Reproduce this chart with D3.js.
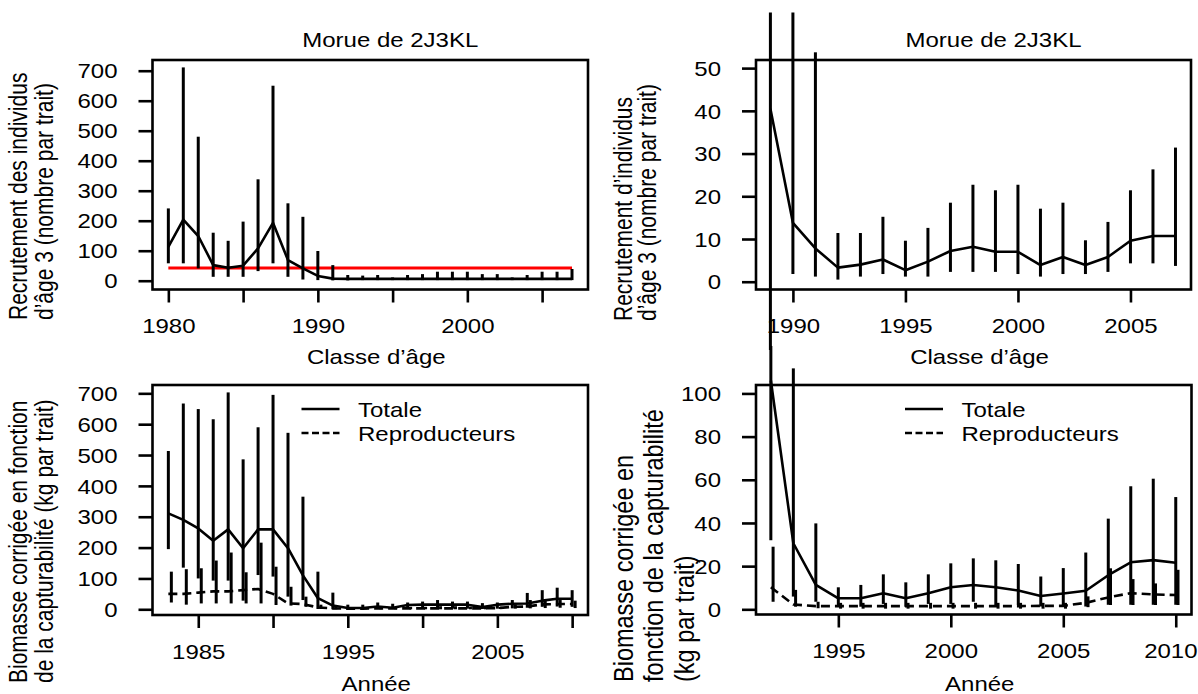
<!DOCTYPE html>
<html>
<head>
<meta charset="utf-8">
<script src="https://cdn.jsdelivr.net/npm/d3@7"></script>
<style>
  body { margin: 0; background: #fff; }
  svg { display: block; font-family: "Liberation Sans", Arial, sans-serif; }
</style>
</head>
<body>
<svg id="chart" width="1198" height="694"></svg>
<script>
// Recruitment at age 3, 1980-2007 (top left)
var yearsRec1 = [1980, 1981, 1982, 1983, 1984, 1985, 1986, 1987, 1988, 1989, 1990, 1991, 1992, 1993,
                 1994, 1995, 1996, 1997, 1998, 1999, 2000, 2001, 2002, 2003, 2004, 2005, 2006, 2007];
var recMean1 = [113, 204, 149, 52, 43, 50, 108, 193, 69, 41, 16, 7, 6, 6, 6, 6, 6, 6, 6, 6, 6, 6, 6, 6, 6, 6, 6, 6];
var recLow1  = [58, 58, 41, 13, 13, 13, 32, 58, 13, 4, 2, 1, 1, 2, 2, 2, 2, 2, 2, 2, 2, 2, 2, 2, 2, 2, 2, 2];
var recHigh1 = [241, 711, 480, 160, 133, 197, 338, 650, 258, 213, 99, 52, 19, 17, 19, 11, 19, 22, 30, 30, 30, 22, 22, 11, 19, 30, 30, 39];
var recRefLevel1 = 42;

// Recruitment at age 3, 1989-2007 (top right)
var yearsRec2 = [1989, 1990, 1991, 1992, 1993, 1994, 1995, 1996, 1997, 1998, 1999, 2000, 2001, 2002, 2003, 2004, 2005, 2006, 2007];
var recMean2 = [40.5, 13.8, 7.8, 3.3, 4.0, 5.2, 2.7, 4.7, 7.2, 8.2, 7.0, 7.0, 3.9, 5.8, 3.9, 5.8, 9.6, 10.7, 10.7];
var recLow2  = [-16, 1.8, 1.2, 0.5, 1.2, 1.8, 1.2, 1.2, 2.3, 2.3, 2.3, 1.8, 1.2, 1.8, 1.8, 2.3, 4.3, 4.3, 3.7];
var recHigh2 = [63, 63, 53.7, 11.4, 11.4, 15.2, 9.6, 12.6, 18.5, 22.7, 21.4, 22.7, 17.1, 18.5, 9.7, 14.0, 21.4, 26.3, 31.4];

// Biomass, 1983-2010 (bottom left)
var yearsBio3 = [1983, 1984, 1985, 1986, 1987, 1988, 1989, 1990, 1991, 1992, 1993, 1994, 1995, 1996,
                 1997, 1998, 1999, 2000, 2001, 2002, 2003, 2004, 2005, 2006, 2007, 2008, 2009, 2010];
var totMean3 = [311, 290, 262, 222, 259, 198, 259, 259, 198, 110, 36, 12, 4, 4, 9, 5, 14, 15, 15, 15, 15, 7, 15, 18, 19, 28, 34, 34];
var totLow3  = [195, 135, 100, 93, 93, 28, 111, 106, 41, 30, 1, 0, 1, 1, 2, 1, 2, 2, 2, 2, 2, 1, 2, 3, 5, 8, 9, 8];
var totHigh3 = [513, 667, 649, 616, 703, 486, 590, 695, 572, 365, 122, 54, 15, 15, 22, 18, 22, 25, 30, 25, 25, 20, 22, 30, 53, 62, 70, 62];
var repMean3 = [50, 50, 54, 58, 58, 62, 66, 50, 19, 17, 6, 3, 2, 2, 3, 3, 3, 3, 3, 3, 3, 3, 4, 8, 9, 16, 17, 17];
var repLow3  = [22, 15, 19, 19, 19, 19, 19, 14, 12, 8, 1, 0, 0, 0, 0, 0, 0, 0, 0, 0, 0, 0, 1, 2, 3, 4, 5, 4];
var repHigh3 = [122, 130, 133, 158, 184, 120, 216, 138, 73, 41, 15, 8, 6, 6, 8, 6, 8, 8, 10, 10, 8, 6, 8, 15, 30, 28, 30, 28];

// Biomass, 1992-2010 (bottom right)
var yearsBio4 = [1992, 1993, 1994, 1995, 1996, 1997, 1998, 1999, 2000, 2001, 2002, 2003, 2004, 2005, 2006, 2007, 2008, 2009, 2010];
var totMean4 = [106, 30.6, 11.3, 5.1, 5.1, 7.4, 5.1, 7.4, 10.2, 11.3, 10.2, 8.7, 6.2, 7.3, 8.6, 15.8, 21.8, 22.8, 21.6];
var totLow4  = [32, 5.9, 3.5, 1.2, 1.2, 2.5, 1.2, 2.5, 2.5, 3.5, 2.0, 2.0, 1.3, 1.3, 1.3, 2.1, 2.1, 2.1, 2.1];
var totHigh4 = [122, 111.6, 39.8, 10.2, 11.3, 16.2, 12.5, 16.2, 21.3, 23.6, 22.7, 21.0, 15.2, 19.1, 26.3, 42.0, 57.0, 60.5, 52.0];
var repMean4 = [10.2, 2.2, 1.5, 1.5, 1.5, 1.5, 1.5, 1.5, 1.5, 1.5, 1.5, 1.5, 1.6, 1.6, 3.0, 5.5, 7.5, 6.9, 6.6];
var repLow4  = [3.5, 1.2, 0.5, 0.3, 0.3, 0.3, 0.3, 0.3, 0.3, 0.3, 0.3, 0.3, 0.3, 0.3, 1.0, 2.0, 2.0, 2.0, 2.0];
var repHigh4 = [29, 9, 3.5, 3, 3, 3, 3, 3, 3, 3, 3, 3, 3, 3, 6, 19, 14, 12, 18.3];

// Axis ticks and labels
var yTicksRec1 = [0, 100, 200, 300, 400, 500, 600, 700];
var yTicksRec2 = [0, 10, 20, 30, 40, 50];
var yTicksBio3 = [0, 100, 200, 300, 400, 500, 600, 700];
var yTicksBio4 = [0, 20, 40, 60, 80, 100];
var xTicks1 = [1980, 1985, 1990, 1995, 2000, 2005];
var xLabels1 = [1980, 1990, 2000];
var xTicks2 = [1990, 1995, 2000, 2005];
var xTicks3 = [1985, 1990, 1995, 2000, 2005, 2010];
var xLabels3 = [1985, 1995, 2005];
var xTicks4 = [1995, 2000, 2005, 2010];

var titleText = "Morue de 2J3KL";
var legendLabels = ["Totale", "Reproducteurs"];

var W = 1198;
var svg = d3.select("#chart");
var SX = 1.2;        // the source picture is stretched sideways
var LW = 2.6;

function hText(parent, x, y, txt, anchor, size) {
  return parent.append("text")
    .attr("transform", "translate(" + x + "," + y + ") scale(" + SX + ",1)")
    .attr("text-anchor", anchor)
    .attr("font-size", size)
    .attr("fill", "#000")
    .text(txt);
}

function vText(parent, x, y, txt, size) {
  return parent.append("text")
    .attr("transform", "translate(" + x + "," + y + ") rotate(-90) scale(1," + SX + ")")
    .attr("text-anchor", "start")
    .attr("font-size", size)
    .attr("fill", "#000")
    .text(txt);
}

function drawPanel(p) {
  var x = d3.scaleLinear().domain(p.xDomain).range([p.left, p.right]);
  var y = d3.scaleLinear().domain(p.yDomain).range([p.bottom, p.top]);
  var g = svg.append("g");

  // X axis
  var xa = g.append("g")
    .attr("transform", "translate(0," + p.bottom + ")")
    .call(d3.axisBottom(x).tickValues(p.xTicks).tickSize(13)
      .tickFormat(function(d) { return p.xLabels.indexOf(d) >= 0 ? String(d) : ""; }))
    .attr("font-size", 20).attr("font-family", null);
  xa.select(".domain").remove();
  xa.selectAll(".tick line").attr("stroke", "#000").attr("stroke-width", LW);
  xa.selectAll(".tick text").attr("y", 0).attr("dy", 0).attr("fill", "#000")
    .attr("transform", function(d) {
      // keep a label that would run past the right edge inside the page
      var half = String(d).length * 0.556 * 20 * SX / 2;
      var shift = Math.min(0, W - 1 - (x(d) + half));
      return "translate(" + shift + ",43.5) scale(" + SX + ",1)";
    });

  // Y axis
  var ya = g.append("g")
    .attr("transform", "translate(" + p.left + ",0)")
    .call(d3.axisLeft(y).tickValues(p.yTicks).tickSize(14)
      .tickFormat(function(d) { return String(d); }))
    .attr("font-size", 20).attr("font-family", null);
  ya.select(".domain").remove();
  ya.selectAll(".tick line").attr("stroke", "#000").attr("stroke-width", LW);
  ya.selectAll(".tick text").attr("x", 0).attr("dy", 0).attr("fill", "#000")
    .attr("transform", "translate(-35,7.2) scale(" + SX + ",1)");

  // Reference level
  if (p.ref != null) {
    g.append("line")
      .attr("x1", x(p.years[0])).attr("x2", x(p.years[p.years.length - 1]))
      .attr("y1", y(p.ref)).attr("y2", y(p.ref))
      .attr("stroke", "#ff0000").attr("stroke-width", 3);
  }

  // Series: error bars and mean line
  p.series.forEach(function(s) {
    g.append("g").selectAll("line")
      .data(p.years)
      .enter().append("line")
      .attr("x1", function(d) { return x(d + s.offset); })
      .attr("x2", function(d) { return x(d + s.offset); })
      .attr("y1", function(d, i) { return y(s.low[i]); })
      .attr("y2", function(d, i) { return y(s.high[i]); })
      .attr("stroke", "#000").attr("stroke-width", 3);

    var line = d3.line()
      .x(function(d) { return x(d); })
      .y(function(d, i) { return y(s.mean[i]); });

    g.append("path")
      .datum(p.years)
      .attr("d", line)
      .attr("fill", "none")
      .attr("stroke", "#000")
      .attr("stroke-width", LW)
      .attr("stroke-linejoin", "round")
      .attr("stroke-dasharray", s.dashed ? "9,5" : null);
  });

  // Box
  g.append("rect")
    .attr("x", p.left).attr("y", p.top)
    .attr("width", p.right - p.left).attr("height", p.bottom - p.top)
    .attr("fill", "none").attr("stroke", "#000").attr("stroke-width", LW);

  // Legend
  if (p.legend) {
    legendLabels.forEach(function(lbl, i) {
      var ly = 409 + i * 24;
      g.append("line")
        .attr("x1", p.left + 149).attr("x2", p.left + 187)
        .attr("y1", ly).attr("y2", ly)
        .attr("stroke", "#000").attr("stroke-width", LW)
        .attr("stroke-dasharray", i === 1 ? "7,3.5" : null);
      hText(g, p.left + 205.5, ly + 7.5, lbl, "start", 20);
    });
  }

  // Titles
  if (p.title) hText(g, (p.left + p.right) / 2 + 20, 46.5, p.title, "middle", 20);
  hText(g, (p.left + p.right) / 2 + 6, p.xTitleY, p.xTitle, "middle", 20);
  p.yTitle.forEach(function(t, i) {
    vText(g, p.yTitleX[i], p.yTitleBottom, t, p.yTitleSize);
  });
}

drawPanel({
  left: 152.5, right: 588, top: 60, bottom: 289.5,
  xDomain: [1978.94, 2008.07], yDomain: [-29.3, 735.7],
  xTicks: xTicks1, xLabels: xLabels1, yTicks: yTicksRec1,
  years: yearsRec1, ref: recRefLevel1,
  series: [{mean: recMean1, low: recLow1, high: recHigh1, offset: 0, dashed: false}],
  title: titleText, xTitle: "Classe d\u2019\u00e2ge", xTitleY: 363.5,
  yTitle: ["Recrutement des individus", "d\u2019\u00e2ge 3 (nombre par trait)"],
  yTitleX: [27, 53], yTitleBottom: 320, yTitleSize: 21
});

drawPanel({
  left: 756, right: 1191, top: 60, bottom: 289.5,
  xDomain: [1988.36, 2007.69], yDomain: [-1.82, 51.9],
  xTicks: xTicks2, xLabels: xTicks2, yTicks: yTicksRec2,
  years: yearsRec2, ref: null,
  series: [{mean: recMean2, low: recLow2, high: recHigh2, offset: 0, dashed: false}],
  title: titleText, xTitle: "Classe d\u2019\u00e2ge", xTitleY: 363.5,
  yTitle: ["Recrutement d\u2019individus", "d\u2019\u00e2ge 3 (nombre par trait)"],
  yTitleX: [632, 656], yTitleBottom: 321, yTitleSize: 21
});

drawPanel({
  left: 152.5, right: 588, top: 385, bottom: 615,
  xDomain: [1981.94, 2011.06], yDomain: [-18.5, 727],
  xTicks: xTicks3, xLabels: xLabels3, yTicks: yTicksBio3,
  years: yearsBio3, ref: null, legend: true,
  series: [
    {mean: totMean3, low: totLow3, high: totHigh3, offset: 0, dashed: false},
    {mean: repMean3, low: repLow3, high: repHigh3, offset: 0.2, dashed: true}
  ],
  title: null, xTitle: "Ann\u00e9e", xTitleY: 690.5,
  yTitle: ["Biomasse corrig\u00e9e en fonction", "de la capturabilit\u00e9 (kg par trait)"],
  yTitleX: [27, 53], yTitleBottom: 683, yTitleSize: 21
});

drawPanel({
  left: 756, right: 1191.5, top: 385, bottom: 614.5,
  xDomain: [1991.34, 2010.7], yDomain: [-2.4, 103.9],
  xTicks: xTicks4, xLabels: xTicks4, yTicks: yTicksBio4,
  years: yearsBio4, ref: null, legend: true,
  series: [
    {mean: totMean4, low: totLow4, high: totHigh4, offset: 0, dashed: false},
    {mean: repMean4, low: repLow4, high: repHigh4, offset: 0.1, dashed: true}
  ],
  title: null, xTitle: "Ann\u00e9e", xTitleY: 690.5,
  yTitle: ["Biomasse corrig\u00e9e en", "fonction de la capturabilit\u00e9", "(kg par trait)"],
  yTitleX: [633, 663, 694], yTitleBottom: 682, yTitleSize: 23.5
});
</script>
</body>
</html>
